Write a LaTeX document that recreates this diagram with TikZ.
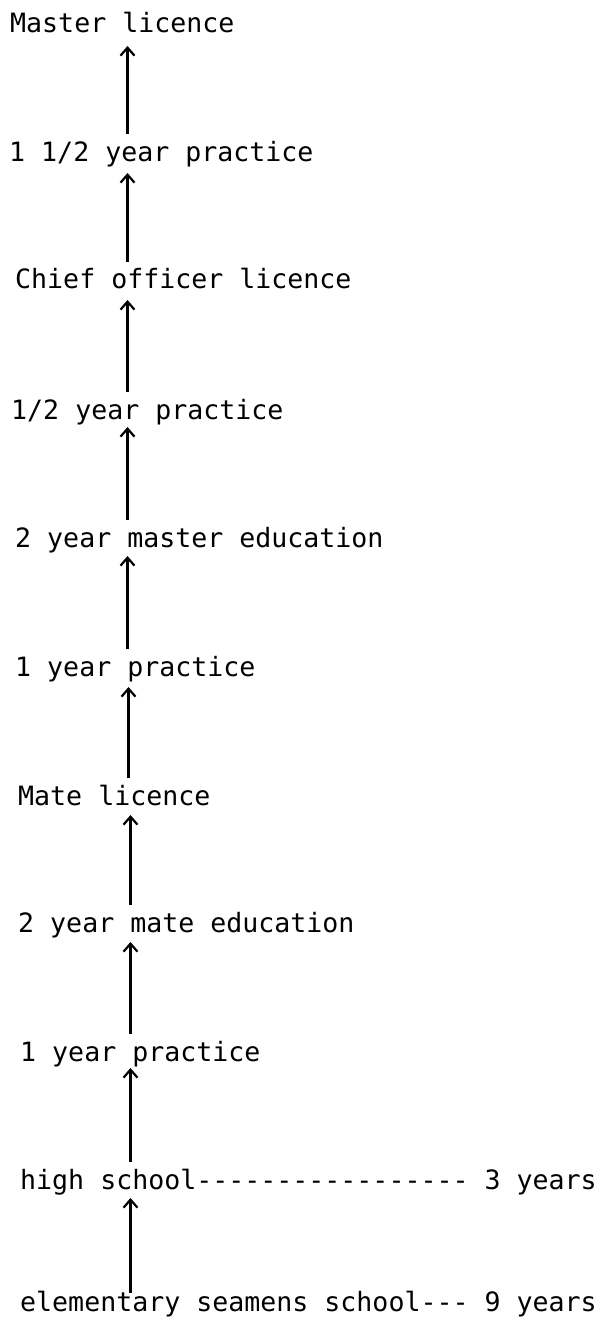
\documentclass[tikz,border=0pt]{standalone}
\usepackage{fontspec}
\newfontfamily\typefont{DejaVu Sans Mono}
\usetikzlibrary{arrows.meta,calc}
\begin{document}
\begin{tikzpicture}[x=1pt,y=-1pt,
  lbl/.style={anchor=base west,inner sep=0pt,font=\typefont\fontsize{26.6}{30}\selectfont},
  arr/.style={line width=2.4pt,-{Straight Barb[length=8pt,width=14pt,line width=2.2pt]}}]
\useasboundingbox (0,0) rectangle (603,1321);
% career ladder, bottom to top
\node[lbl] (n1)  at (10,33)   {Master licence};
\node[lbl] (n2)  at (9,162)   {1 1/2 year practice};
\node[lbl] (n3)  at (15,289)  {Chief officer licence};
\node[lbl] (n4)  at (11,419)  {1/2 year practice};
\node[lbl] (n5)  at (15,547)  {2 year master education};
\node[lbl] (n6)  at (15,676)  {1 year practice};
\node[lbl] (n7)  at (18,805)  {Mate licence};
\node[lbl] (n8)  at (18,932)  {2 year mate education};
\node[lbl] (n9)  at (20,1061) {1 year practice};
\node[lbl] (n10) at (20,1189) {high school----------------- 3 years};
\node[lbl] (n11) at (20,1311) {elementary seamens school--- 9 years};
% arrow columns
\coordinate (ax) at (127.5,0);
\coordinate (bx) at (128.5,0);
\coordinate (cx) at (130.5,0);
\draw[arr] ($(n2.base -| ax)+(0,-28)$) -- ($(n1.base -| ax)+(0,13)$);
\draw[arr] ($(n3.base -| ax)+(0,-27)$) -- ($(n2.base -| ax)+(0,11)$);
\draw[arr] ($(n4.base -| ax)+(0,-27)$) -- ($(n3.base -| ax)+(0,11)$);
\draw[arr] ($(n5.base -| ax)+(0,-27)$) -- ($(n4.base -| ax)+(0,8)$);
\draw[arr] ($(n6.base -| ax)+(0,-27)$) -- ($(n5.base -| ax)+(0,9)$);
\draw[arr] ($(n7.base -| bx)+(0,-27)$) -- ($(n6.base -| bx)+(0,11)$);
\draw[arr] ($(n8.base -| cx)+(0,-27)$) -- ($(n7.base -| cx)+(0,10)$);
\draw[arr] ($(n9.base -| cx)+(0,-27)$) -- ($(n8.base -| cx)+(0,10)$);
\draw[arr] ($(n10.base -| cx)+(0,-27)$) -- ($(n9.base -| cx)+(0,7)$);
\draw[arr] ($(n11.base -| cx)+(0,-18)$) -- ($(n10.base -| cx)+(0,9)$);
\end{tikzpicture}
\end{document}
